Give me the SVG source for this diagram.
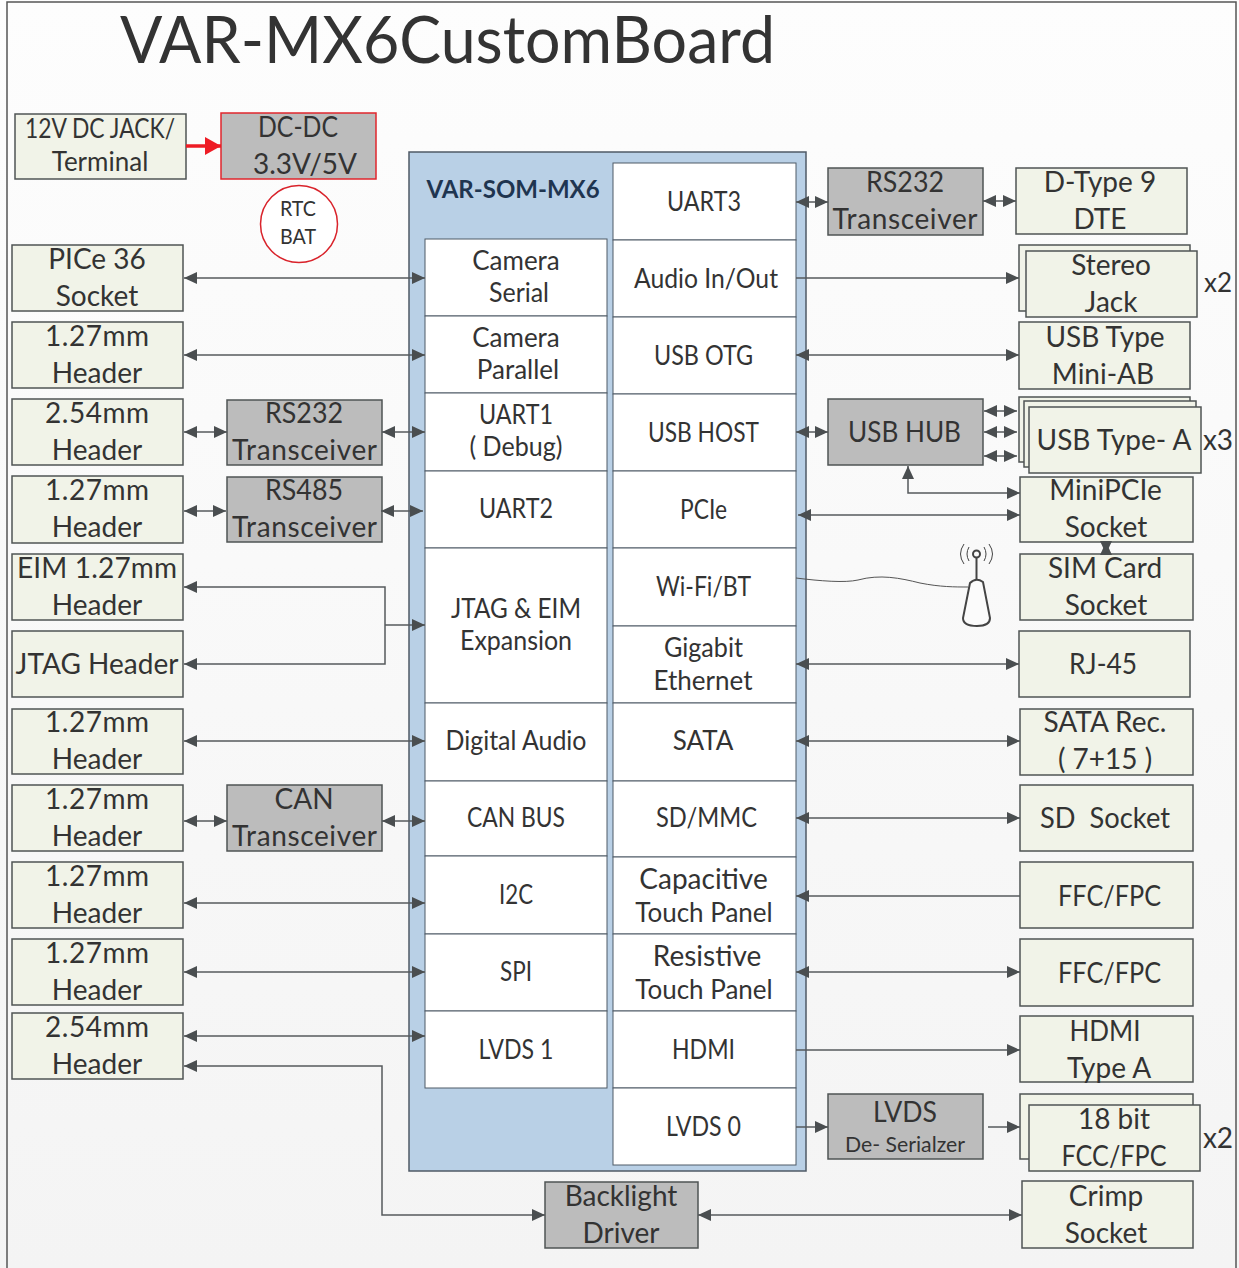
<svg xmlns="http://www.w3.org/2000/svg" width="1239" height="1268" viewBox="0 0 1239 1268">
<style>
text{font-family:"Lato","Carlito","Open Sans",sans-serif;fill:#333;text-anchor:middle}
.b{fill:#f1f3e8;stroke:#4f5454;stroke-width:1.5}
.g{fill:#bcbcbc;stroke:#4f5454;stroke-width:1.5}
.w{fill:#fff;stroke:#4f5a66;stroke-width:1}
.t{font-size:28px}
.m{font-size:26px}
.l{fill:none;stroke:#565a5c;stroke-width:1.5}
.d{marker-start:url(#a);marker-end:url(#a)}
.e{marker-end:url(#a)}
</style>
<defs>
<linearGradient id="bg" x1="0" y1="0" x2="0" y2="1"><stop offset="0" stop-color="#fdfdfd"/><stop offset="1" stop-color="#f4f4f4"/></linearGradient>
<marker id="a" markerUnits="userSpaceOnUse" markerWidth="13" markerHeight="12" refX="13" refY="6" orient="auto-start-reverse"><path d="M0,0L13,6L0,12Z" fill="#4a4e50"/></marker>
<marker id="r" markerUnits="userSpaceOnUse" markerWidth="16" markerHeight="18" refX="16" refY="9" orient="auto"><path d="M0,0L16,9L0,18Z" fill="#ee1c25"/></marker>
</defs>
<rect width="1239" height="1268" fill="url(#bg)"/>
<path d="M7,1268V2H1236V1268" fill="none" stroke="#555" stroke-width="1.5"/>
<text id="title" x="447.500" y="63" style="font-size:65px" textLength="655" lengthAdjust="spacingAndGlyphs">VAR-MX6CustomBoard</text>

<g id="panel"><rect x="409" y="152" width="397" height="1019" fill="#b9d0e6" stroke="#4f5a66" stroke-width="1.5"/><text x="513" y="198" style="font-size:24px;font-weight:700;fill:#1f3550">VAR-SOM-MX6</text></g>

<g id="cells-left">
<g id="cam-serial"><rect class="w" x="425" y="239" width="182" height="77"/><text class="m" x="516" y="270">Camera</text><text class="m" x="519" y="302" textLength="60" lengthAdjust="spacingAndGlyphs">Serial</text></g>
<g id="cam-parallel"><rect class="w" x="425" y="316" width="182" height="77"/><text class="m" x="516" y="347">Camera</text><text class="m" x="518" y="379">Parallel</text></g>
<g id="uart1"><rect class="w" x="425" y="393" width="182" height="78"/><text class="m" x="516" y="424" textLength="74" lengthAdjust="spacingAndGlyphs">UART1</text><text class="m" x="516" y="456" textLength="93" lengthAdjust="spacingAndGlyphs">( Debug)</text></g>
<g id="uart2"><rect class="w" x="425" y="471" width="182" height="77"/><text class="m" x="516" y="518" textLength="74" lengthAdjust="spacingAndGlyphs">UART2</text></g>
<g id="jtag-eim"><rect class="w" x="425" y="548" width="182" height="155"/><text class="m" x="516" y="618" textLength="130" lengthAdjust="spacingAndGlyphs">JTAG &amp; EIM</text><text class="m" x="516" y="650" textLength="112" lengthAdjust="spacingAndGlyphs">Expansion</text></g>
<g id="digital-audio"><rect class="w" x="425" y="703" width="182" height="78"/><text class="m" x="516" y="750" textLength="141" lengthAdjust="spacingAndGlyphs">Digital Audio</text></g>
<g id="can-bus"><rect class="w" x="425" y="781" width="182" height="75"/><text class="m" x="516" y="827" textLength="98" lengthAdjust="spacingAndGlyphs">CAN BUS</text></g>
<g id="i2c"><rect class="w" x="425" y="856" width="182" height="78"/><text class="m" x="516" y="904" textLength="34" lengthAdjust="spacingAndGlyphs">I2C</text></g>
<g id="spi"><rect class="w" x="425" y="934" width="182" height="77"/><text class="m" x="516" y="981" textLength="32" lengthAdjust="spacingAndGlyphs">SPI</text></g>
<g id="lvds1"><rect class="w" x="425" y="1011" width="182" height="77"/><text class="m" x="516" y="1059" textLength="75" lengthAdjust="spacingAndGlyphs">LVDS 1</text></g>
</g>
<g id="cells-right">
<g id="uart3"><rect class="w" x="613" y="163" width="183" height="77"/><text class="m" x="704" y="211" textLength="74" lengthAdjust="spacingAndGlyphs">UART3</text></g>
<g id="audio"><rect class="w" x="613" y="240" width="183" height="77"/><text class="m" x="706" y="288" textLength="144" lengthAdjust="spacingAndGlyphs">Audio In/Out</text></g>
<g id="usb-otg"><rect class="w" x="613" y="317" width="183" height="77"/><text class="m" x="703.500" y="365" textLength="99" lengthAdjust="spacingAndGlyphs">USB OTG</text></g>
<g id="usb-host"><rect class="w" x="613" y="394" width="183" height="77"/><text class="m" x="703.500" y="442" textLength="111" lengthAdjust="spacingAndGlyphs">USB HOST</text></g>
<g id="pcie"><rect class="w" x="613" y="471" width="183" height="77"/><text class="m" x="703.500" y="519" textLength="47" lengthAdjust="spacingAndGlyphs">PCIe</text></g>
<g id="wifi"><rect class="w" x="613" y="548" width="183" height="78"/><text class="m" x="703.500" y="596" textLength="95" lengthAdjust="spacingAndGlyphs">Wi-Fi/BT</text></g>
<g id="gige"><rect class="w" x="613" y="626" width="183" height="77"/><text class="m" x="703.500" y="657" textLength="79" lengthAdjust="spacingAndGlyphs">Gigabit</text><text class="m" x="703" y="690">Ethernet</text></g>
<g id="sata"><rect class="w" x="613" y="703" width="183" height="78"/><text class="m" x="703" y="750">SATA</text></g>
<g id="sdmmc"><rect class="w" x="613" y="781" width="183" height="76"/><text class="m" x="706.500" y="827" textLength="101" lengthAdjust="spacingAndGlyphs">SD/MMC</text></g>
<g id="cap-touch"><rect class="w" x="613" y="857" width="183" height="77"/><text class="t" x="703.500" y="889">Capacitive</text><text class="m" x="704" y="922">Touch Panel</text></g>
<g id="res-touch"><rect class="w" x="613" y="934" width="183" height="77"/><text class="t" x="707" y="966">Resistive</text><text class="m" x="704" y="999">Touch Panel</text></g>
<g id="hdmi"><rect class="w" x="613" y="1011" width="183" height="77"/><text class="m" x="703.500" y="1059" textLength="63" lengthAdjust="spacingAndGlyphs">HDMI</text></g>
<g id="lvds0"><rect class="w" x="613" y="1088" width="183" height="77"/><text class="m" x="703.500" y="1136" textLength="75" lengthAdjust="spacingAndGlyphs">LVDS 0</text></g>
</g>

<g id="left-nodes">
<g id="jack"><rect class="b" x="15" y="114" width="171" height="65"/><text class="m" x="100" y="138" textLength="150" lengthAdjust="spacingAndGlyphs">12V DC JACK/</text><text class="m" x="100" y="171">Terminal</text></g>
<g id="dcdc"><rect x="221" y="113" width="155" height="66" fill="#bcbcbc" stroke="#e0262c" stroke-width="1.5"/><text class="t" x="298" y="137" textLength="80" lengthAdjust="spacingAndGlyphs">DC-DC</text><text class="t" x="305" y="174">3.3V/5V</text></g>
<g id="rtc"><circle cx="299" cy="224" r="38.500" fill="#fff" stroke="#d9232b" stroke-width="1.500"/><text x="298" y="216" style="font-size:22px" textLength="36" lengthAdjust="spacingAndGlyphs">RTC</text><text x="298" y="244" style="font-size:22px" textLength="36" lengthAdjust="spacingAndGlyphs">BAT</text></g>
<g id="l-pcie"><rect class="b" x="12" y="245" width="171" height="66"/><text class="t" x="97" y="269">PICe 36</text><text class="t" x="97" y="306">Socket</text></g>
<g id="l-h1"><rect class="b" x="12" y="322" width="171" height="66"/><text class="t" x="97" y="346" textLength="104">1.27mm</text><text class="t" x="97" y="383">Header</text></g>
<g id="l-h2"><rect class="b" x="12" y="399" width="171" height="66"/><text class="t" x="97" y="423" textLength="104">2.54mm</text><text class="t" x="97" y="460">Header</text></g>
<g id="l-h3"><rect class="b" x="12" y="476" width="171" height="67"/><text class="t" x="97" y="500" textLength="104">1.27mm</text><text class="t" x="97" y="537">Header</text></g>
<g id="l-eim"><rect class="b" x="12" y="554" width="171" height="66"/><text class="t" x="97" y="578" textLength="160">EIM 1.27mm</text><text class="t" x="97" y="615">Header</text></g>
<g id="l-jtag"><rect class="b" x="12" y="631" width="171" height="66"/><text class="t" x="97" y="674">JTAG Header</text></g>
<g id="l-h4"><rect class="b" x="12" y="709" width="171" height="65"/><text class="t" x="97" y="732" textLength="104">1.27mm</text><text class="t" x="97" y="769">Header</text></g>
<g id="l-h5"><rect class="b" x="12" y="785" width="171" height="66"/><text class="t" x="97" y="809" textLength="104">1.27mm</text><text class="t" x="97" y="846">Header</text></g>
<g id="l-h6"><rect class="b" x="12" y="862" width="171" height="66"/><text class="t" x="97" y="886" textLength="104">1.27mm</text><text class="t" x="97" y="923">Header</text></g>
<g id="l-h7"><rect class="b" x="12" y="939" width="171" height="66"/><text class="t" x="97" y="963" textLength="104">1.27mm</text><text class="t" x="97" y="1000">Header</text></g>
<g id="l-h8"><rect class="b" x="12" y="1013" width="171" height="66"/><text class="t" x="97" y="1037" textLength="104">2.54mm</text><text class="t" x="97" y="1074">Header</text></g>
<g id="t-rs232"><rect class="g" x="227" y="400" width="155" height="65"/><text class="t" x="304" y="423" textLength="78" lengthAdjust="spacingAndGlyphs">RS232</text><text class="t" x="304.500" y="460" textLength="145">Transceiver</text></g>
<g id="t-rs485"><rect class="g" x="227" y="477" width="155" height="65"/><text class="t" x="304" y="500" textLength="78" lengthAdjust="spacingAndGlyphs">RS485</text><text class="t" x="304.500" y="537" textLength="145">Transceiver</text></g>
<g id="t-can"><rect class="g" x="227" y="785" width="155" height="66"/><text class="t" x="304" y="809">CAN</text><text class="t" x="304.500" y="846" textLength="145">Transceiver</text></g>
<g id="backlight"><rect class="g" x="545" y="1182" width="153" height="66"/><text class="t" x="621" y="1206">Backlight</text><text class="t" x="621" y="1243">Driver</text></g>
</g>

<g id="right-nodes">
<g id="t-rs232r"><rect class="g" x="828" y="168" width="155" height="67"/><text class="t" x="905" y="192" textLength="78" lengthAdjust="spacingAndGlyphs">RS232</text><text class="t" x="905" y="229" textLength="145">Transceiver</text></g>
<g id="usb-hub"><rect class="g" x="828" y="399" width="155" height="66"/><text class="t" x="904.500" y="442" textLength="113" lengthAdjust="spacingAndGlyphs">USB HUB</text></g>
<g id="lvds-ser"><rect class="g" x="828" y="1094" width="155" height="65"/><text class="t" x="905" y="1122" textLength="64" lengthAdjust="spacingAndGlyphs">LVDS</text><text x="905" y="1152" style="font-size:22px" textLength="120" lengthAdjust="spacingAndGlyphs">De- Serialzer</text></g>
<g id="dtype"><rect class="b" x="1016" y="168" width="171" height="66"/><text class="t" x="1100" y="192">D-Type 9</text><text class="t" x="1100" y="229">DTE</text></g>
<g id="stereo"><rect class="b" x="1019" y="245" width="171" height="66"/><rect class="b" x="1026" y="251" width="171" height="66"/><text class="t" x="1111" y="275">Stereo</text><text class="t" x="1111" y="312">Jack</text><text class="m" x="1218" y="292">x2</text></g>
<g id="usb-mini"><rect class="b" x="1019" y="322" width="171" height="67"/><text class="t" x="1105" y="347">USB Type</text><text class="t" x="1103" y="384">Mini-AB</text></g>
<g id="usb-a"><rect class="b" x="1019" y="397" width="171" height="65"/><rect class="b" x="1024" y="401" width="172" height="66"/><rect class="b" x="1029" y="407" width="172" height="66"/><text class="t" x="1114" y="450">USB Type- A</text><text class="t" x="1218" y="450">x3</text></g>
<g id="minipcie"><rect class="b" x="1020" y="477" width="173" height="65"/><text class="t" x="1105.500" y="500">MiniPCIe</text><text class="t" x="1106" y="537">Socket</text></g>
<g id="sim"><rect class="b" x="1020" y="554" width="173" height="66"/><text class="t" x="1105" y="578">SIM Card</text><text class="t" x="1106" y="615">Socket</text></g>
<g id="rj45"><rect class="b" x="1019" y="631" width="171" height="66"/><text class="t" x="1103" y="674" textLength="68" lengthAdjust="spacingAndGlyphs">RJ-45</text></g>
<g id="sata-rec"><rect class="b" x="1020" y="709" width="173" height="66"/><text class="t" x="1105" y="732">SATA Rec.</text><text class="t" x="1105" y="769">( 7+15 )</text></g>
<g id="sd"><rect class="b" x="1020" y="785" width="173" height="66"/><text class="t" x="1105" y="828" style="white-space:pre" textLength="130" lengthAdjust="spacingAndGlyphs">SD  Socket</text></g>
<g id="ffc1"><rect class="b" x="1020" y="862" width="173" height="66"/><text class="t" x="1109.500" y="906" textLength="103" lengthAdjust="spacingAndGlyphs">FFC/FPC</text></g>
<g id="ffc2"><rect class="b" x="1020" y="939" width="173" height="67"/><text class="t" x="1109.500" y="983" textLength="103" lengthAdjust="spacingAndGlyphs">FFC/FPC</text></g>
<g id="hdmi-a"><rect class="b" x="1020" y="1016" width="173" height="66"/><text class="t" x="1105" y="1041" textLength="71" lengthAdjust="spacingAndGlyphs">HDMI</text><text class="t" x="1109" y="1078">Type A</text></g>
<g id="ffc18"><rect class="b" x="1020" y="1094" width="173" height="65"/><rect class="b" x="1029" y="1105" width="171" height="66"/><text class="t" x="1114" y="1129">18 bit</text><text class="t" x="1114" y="1166" textLength="105" lengthAdjust="spacingAndGlyphs">FCC/FPC</text><text class="t" x="1218" y="1148">x2</text></g>
<g id="crimp"><rect class="b" x="1022" y="1181" width="171" height="67"/><text class="t" x="1106" y="1206">Crimp</text><text class="t" x="1106" y="1243">Socket</text></g>
<g id="antenna" fill="none" stroke="#444" stroke-width="2"><path d="M976.500,580V558"/><circle cx="976.500" cy="554" r="3.500"/><path d="M969,547Q965,554 969,561M984,547Q988,554 984,561M964,544Q957,554 964,564M989,544Q996,554 989,564" stroke-width="1"/><path d="M970,583Q976,577 983,582L990,618Q990,626 977,626Q963,626 963,618Z" fill="#fbfbfb"/></g>
</g>

<g id="connectors">
<path d="M186,146H221" fill="none" stroke="#ee1c25" stroke-width="3.500" marker-end="url(#r)"/>
<path class="l d" d="M184,278H425"/>
<path class="l d" d="M184,355H425"/>
<path class="l d" d="M184,432H227"/>
<path class="l d" d="M382,432H425"/>
<path class="l d" d="M184,511H226"/>
<path class="l d" d="M381,511H423"/>
<path class="l d" d="M184,587H385V664H184"/>
<path class="l e" d="M385,625H425"/>
<path class="l d" d="M184,741H425"/>
<path class="l d" d="M184,821H227"/>
<path class="l d" d="M382,821H425"/>
<path class="l d" d="M184,903H425"/>
<path class="l d" d="M184,972H425"/>
<path class="l d" d="M184,1036H425"/>
<path class="l d" d="M184,1066H382V1215H545"/>
<path class="l d" d="M698,1215H1022"/>
<path class="l d" d="M796,202H828"/>
<path class="l d" d="M983,201H1016"/>
<path class="l e" d="M796,278H1019"/>
<path class="l d" d="M796,355H1019"/>
<path class="l d" d="M796,432H828"/>
<path class="l d" d="M984,411H1017"/>
<path class="l d" d="M984,432H1017"/>
<path class="l d" d="M984,456H1017"/>
<path class="l d" d="M908,466V493H1020"/>
<path class="l d" d="M798,515H1020"/>
<path class="l d" d="M1106,542V554"/>
<path d="M796,578C820,581 845,583 858,580C880,574 900,578 920,583C940,587 955,587 968,587" fill="none" stroke="#555" stroke-width="1"/>
<path class="l d" d="M796,664H1019"/>
<path class="l d" d="M796,741H1020"/>
<path class="l d" d="M796,818H1020"/>
<path class="l e" d="M1020,896H796"/>
<path class="l d" d="M796,972H1020"/>
<path class="l e" d="M796,1050H1020"/>
<path class="l e" d="M796,1127H828"/>
<path class="l e" d="M988,1127H1020"/>
</g>
</svg>
